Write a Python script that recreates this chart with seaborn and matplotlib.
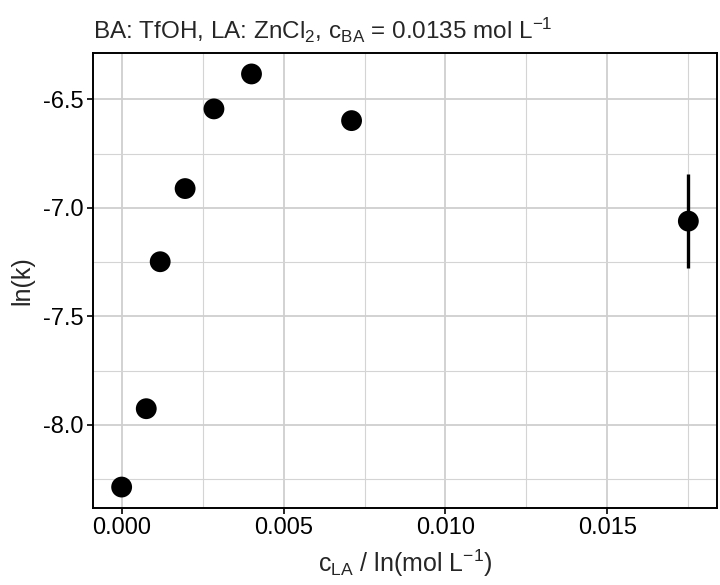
import matplotlib
matplotlib.use("Agg")
import matplotlib.pyplot as plt
import seaborn as sns
import numpy as np
import pandas as pd
from matplotlib.ticker import MultipleLocator

c_la = [0.0, 0.00076, 0.00119, 0.00196, 0.00285, 0.00401, 0.0071, 0.0175]
ln_k = [-8.286, -7.925, -7.248, -6.911, -6.544, -6.383, -6.598, -7.061]
ln_k_err = [np.nan, np.nan, np.nan, np.nan, np.nan, np.nan, np.nan, 0.217]
x_ticks = [0.000, 0.005, 0.010, 0.015]
x_tick_labels = ["0.000", "0.005", "0.010", "0.015"]
y_ticks = [-8.0, -7.5, -7.0, -6.5]
y_tick_labels = ["-8.0", "-7.5", "-7.0", "-6.5"]

df = pd.DataFrame({"c": c_la, "lnk": ln_k, "err": ln_k_err})

sns.set_theme(style="white")
plt.rcParams["font.family"] = ["Liberation Sans", "DejaVu Sans"]
plt.rcParams["mathtext.fontset"] = "custom"
plt.rcParams["mathtext.rm"] = "Liberation Sans"
plt.rcParams["mathtext.it"] = "Liberation Sans:italic"
plt.rcParams["axes.unicode_minus"] = False

fig = plt.figure(figsize=(7.2, 5.85), dpi=100)
ax = fig.add_axes([0.1296, 0.1321, 0.9954 - 0.1296, 0.9089 - 0.1321])

ax.errorbar(df["c"], df["lnk"], yerr=df["err"], fmt="none", ecolor="black",
            elinewidth=2.4, capsize=0, zorder=3)
sns.scatterplot(data=df, x="c", y="lnk", ax=ax, color="black", s=225,
                edgecolor="none", linewidth=0, zorder=4)

xr = max(c_la) - min(c_la)
ax.set_xlim(min(c_la) - 0.05 * xr, max(c_la) + 0.05 * xr)
ymin = min(ln_k)
ymax = max(ln_k)
yr = ymax - ymin
ax.set_ylim(ymin - 0.05 * yr, ymax + 0.05 * yr)

ax.set_xticks(x_ticks)
ax.set_xticklabels(x_tick_labels)
ax.set_yticks(y_ticks)
ax.set_yticklabels(y_tick_labels)
ax.xaxis.set_minor_locator(MultipleLocator(0.0025))
ax.yaxis.set_minor_locator(MultipleLocator(0.25))

ax.grid(which="major", color="#cfcfcf", linewidth=1.3)
ax.grid(which="minor", color="#d4d4d4", linewidth=0.8)
ax.set_axisbelow(True)
for s in ax.spines.values():
    s.set_color("black")
    s.set_linewidth(1.4)

ax.tick_params(axis="both", which="major", direction="out", length=4, width=1.2,
               color="black", labelsize=17, labelcolor="black", pad=3,
               bottom=True, left=True)
ax.tick_params(which="minor", length=0)

ax.set_xlabel(r"c$_{\mathrm{LA}}$ / ln(mol L$^{\mathrm{−1}}$)", fontsize=18, labelpad=6)
ax.set_ylabel("ln(k)", fontsize=18, labelpad=6)
ax.set_title(r"BA: TfOH, LA: ZnCl$_{\mathrm{2}}$, c$_{\mathrm{BA}}$ = 0.0135 mol L$^{\mathrm{−1}}$",
             fontsize=17.5, loc="left", pad=10)

fig.savefig("out.png", dpi=100, facecolor="white")
